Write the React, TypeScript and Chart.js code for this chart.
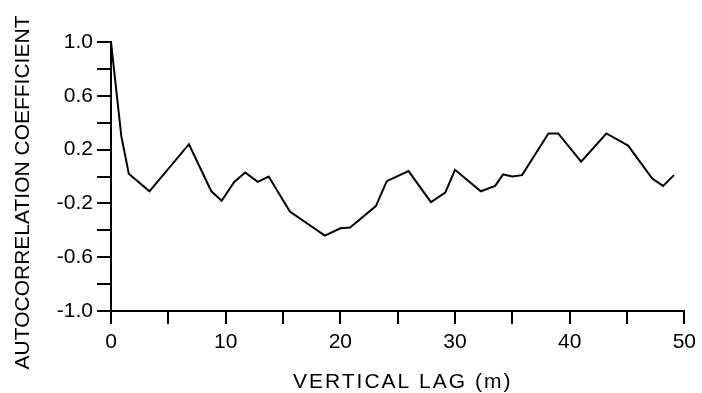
import React, { useEffect, useRef } from "react";
import { Chart, registerables } from "chart.js";

Chart.register(...registerables);

const lags: number[] = [
  0, 0.9, 1.55, 3.35, 6.8, 8.75, 9.65, 10.75, 11.7, 12.8, 13.75, 15.6, 18.65,
  20.0, 20.85, 23.1, 24.05, 25.95, 27.9, 29.15, 30.0, 32.25, 33.5, 34.2, 35.0,
  35.85, 38.15, 39.0, 41.0, 43.2, 45.1, 47.2, 48.15, 49.1,
];
const acf: number[] = [
  1.0, 0.3, 0.02, -0.11, 0.24, -0.11, -0.18, -0.04, 0.03, -0.04, 0.0, -0.26,
  -0.44, -0.385, -0.38, -0.22, -0.035, 0.04, -0.19, -0.12, 0.05, -0.11, -0.07,
  0.015, 0.0, 0.01, 0.32, 0.32, 0.11, 0.32, 0.23, -0.015, -0.07, 0.01,
];

const xTitle = "VERTICAL LAG (m)";
const yTitle = "AUTOCORRELATION COEFFICIENT";
const xRange = [0, 50];
const yRange = [-1, 1];
const xStep = 5;
const yStep = 0.2;

const FONT = '"Liberation Sans", Arial, Helvetica, sans-serif';

const titlePlugin = {
  id: "axisTitles",
  afterDraw(chart: any) {
    const ctx = chart.ctx as CanvasRenderingContext2D;
    const ca = chart.chartArea;
    ctx.save();
    ctx.fillStyle = "#000";
    ctx.font = `21px ${FONT}`;
    ctx.textAlign = "center";
    ctx.textBaseline = "alphabetic";
    (ctx as any).letterSpacing = "2px";
    ctx.fillText(xTitle, (ca.left + ca.right) / 2 + 5, ca.bottom + 77);
    (ctx as any).letterSpacing = "0px";
    ctx.translate(29, (ca.top + ca.bottom) / 2 + 16);
    ctx.rotate(-Math.PI / 2);
    ctx.fillText(yTitle, 0, 0);
    ctx.restore();
  },
};

export default function App() {
  const canvasRef = useRef<HTMLCanvasElement | null>(null);

  useEffect(() => {
    if (!canvasRef.current) return;
    const points = lags.map((x, i) => ({ x, y: acf[i] }));
    const chart = new Chart(canvasRef.current, {
      type: "line",
      data: {
        datasets: [
          {
            data: points,
            borderColor: "#000",
            borderWidth: 2,
            pointRadius: 0,
            tension: 0,
            fill: false,
          },
        ],
      },
      options: {
        animation: false,
        responsive: true,
        maintainAspectRatio: false,
        layout: { padding: { left: 0, top: 42, right: 16.5, bottom: 0 } },
        plugins: {
          legend: { display: false },
          tooltip: { enabled: false },
        },
        scales: {
          x: {
            type: "linear",
            min: xRange[0],
            max: xRange[1],
            afterFit: (scale: any) => {
              scale.height = 82;
            },
            border: { display: true, color: "#000", width: 2 },
            grid: {
              drawOnChartArea: false,
              drawTicks: true,
              tickLength: 13,
              color: "#000",
              lineWidth: 2,
            },
            ticks: {
              stepSize: xStep,
              autoSkip: false,
              maxRotation: 0,
              padding: 6,
              color: "#000",
              font: { family: FONT, size: 21 },
              callback: (v: any) => (Math.round(v) % 10 === 0 ? String(Math.round(v)) : ""),
            },
          },
          y: {
            type: "linear",
            min: yRange[0],
            max: yRange[1],
            afterFit: (scale: any) => {
              scale.width = 111;
            },
            border: { display: true, color: "#000", width: 2 },
            grid: {
              drawOnChartArea: false,
              drawTicks: true,
              tickLength: 14,
              color: "#000",
              lineWidth: 2,
            },
            ticks: {
              stepSize: yStep,
              autoSkip: false,
              padding: 4,
              color: "#000",
              font: { family: FONT, size: 21 },
              callback: (v: any, i: number) => (i % 2 === 0 ? Number(v).toFixed(1) : ""),
            },
          },
        },
      },
      plugins: [titlePlugin],
    });
    return () => chart.destroy();
  }, []);

  return (
    <div
      style={{
        position: "fixed",
        left: 0,
        top: 0,
        width: 702,
        height: 393,
        background: "#fff",
      }}
    >
      <canvas ref={canvasRef} />
    </div>
  );
}
